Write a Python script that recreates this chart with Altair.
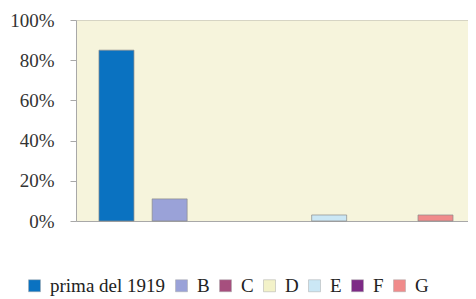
import altair as alt
import pandas as pd

categories = ["prima del 1919", "B", "C", "D", "E", "F", "G"]
values = [85, 11, 0, 0, 3, 0, 3]
colors = ["#0a72c1", "#9aa2d8", "#a64f7e", "#f3f2c9", "#cbe7f5", "#7d2a86", "#f08b8b"]
y_ticks = [0, 20, 40, 60, 80, 100]

df = pd.DataFrame({"cat": categories, "val": values})

FONT = "'Liberation Serif', 'DejaVu Serif', serif"
NB = "\u00a0" * 9

chart = alt.Chart(df).transform_filter(
    "datum.val > 0"
).mark_bar(stroke="#8a8a8a", strokeWidth=0.7).encode(
    x=alt.X("cat:N",
            scale=alt.Scale(domain=categories, paddingInner=0.342, paddingOuter=0.357, align=0.605),
            axis=alt.Axis(labels=False, ticks=False, title=None,
                          domainColor="#a8a8a8", domainWidth=1)),
    y=alt.Y("val:Q", scale=alt.Scale(domain=[0, 100], nice=False),
            axis=alt.Axis(values=y_ticks, title=None, grid=False,
                          labelExpr="datum.value + '%'",
                          labelFont=FONT, labelFontSize=19, labelColor="#333333",
                          labelPadding=16, tickSize=6, tickColor="#a8a8a8",
                          domainColor="#a8a8a8")),
    color=alt.Color("cat:N",
                    scale=alt.Scale(domain=categories, range=colors),
                    legend=alt.Legend(
                        title=None, orient="none", direction="horizontal",
                        legendX=-51, legendY=256, padding=0,
                        symbolType="square", symbolSize=144,
                        symbolStrokeColor="#aaaaaa", symbolStrokeWidth=0.5,
                        labelFont=FONT, labelFontSize=19, labelColor="#222222",
                        labelOffset=6, columnPadding=6,
                        labelExpr=f"datum.label == 'prima del 1919' ? datum.label + '{NB}' : datum.label",
                        labelLimit=300)),
).properties(
    width=392, height=201,
    autosize=alt.AutoSizeParams(type="none"),
    padding={"left": 68, "top": 12, "right": 0, "bottom": 75},
).configure_view(
    fill="#f6f4dc", stroke="#d6d4c4", strokeWidth=1
)

chart.save("out.html", embed_options={"renderer": "svg", "actions": False})
